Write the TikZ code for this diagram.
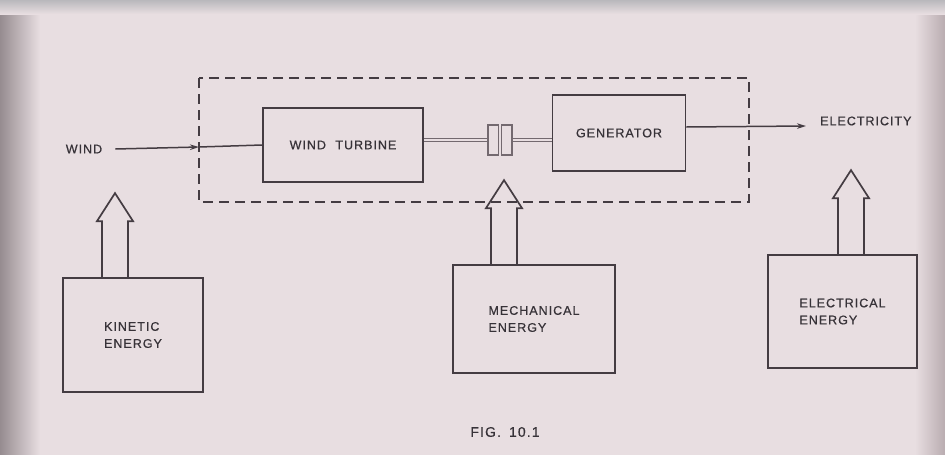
\documentclass[tikz,border=0pt]{standalone}
\usepackage{fontspec}
\setmainfont{Liberation Sans}[LetterSpace=8,FakeBold=0.6]
\usetikzlibrary{arrows.meta,calc}
\definecolor{paper}{RGB}{232,222,225}
\definecolor{paperdark}{RGB}{150,140,144}
\definecolor{paperright}{RGB}{185,172,176}
\definecolor{paperTop}{RGB}{185,184,188}
\definecolor{ink}{RGB}{68,60,66}
\definecolor{textink}{RGB}{55,50,56}
\definecolor{shaftc}{RGB}{115,105,111}
\tikzset{
  ink/.style={draw=ink, line width=1.7pt},
  blockbox/.style={ink, rectangle, inner sep=0pt, align=left, text=textink,
    font=\fontsize{12.5}{17}\selectfont},
  lbl/.style={text=textink, inner sep=1pt, font=\fontsize{12.5}{17}\selectfont},
  flow/.style={draw=ink, line width=1.5pt},
  flowarrow/.style={flow, -{Stealth[length=9pt,width=5.5pt]}},
  shaft/.style={draw=shaftc, line width=1.1pt, double=paper, double distance=2.6pt},
  hollow/.style={draw=ink, line width=1.7pt, line join=miter},
  boundary/.style={draw=ink, line width=1.5pt, dash pattern=on 10pt off 6pt}
}
\newcommand\hollowup[1]{%
  \draw[hollow] ($(#1)+(-13,0)$) -- ++(0,-56) -- ++(-5,0) -- ++(18,-28)
     -- ++(18,28) -- ++(-5,0) -- ++(0,56);}
\begin{document}
\begin{tikzpicture}[x=1pt,y=-1pt]
\useasboundingbox (0,0) rectangle (945,455);
% paper
\fill[paper] (0,0) rectangle (945,455);
\shade[left color=paperdark, right color=paper] (0,0) rectangle (40,455);
\shade[left color=paper, right color=paperright] (915,0) rectangle (945,455);
\shade[top color=paperTop, bottom color=paper] (0,0) rectangle (945,14);

% system boundary
\draw[boundary] (199,78) rectangle (749,202);

% main blocks
\node[blockbox, minimum width=160pt, minimum height=74pt] (wt) at (343,145) {WIND\hspace{5pt} TURBINE};
\node[blockbox, minimum width=133pt, minimum height=76pt] (gen) at (619,133) {GENERATOR};
\node[draw=shaftc, line width=1.1pt, minimum width=24pt, minimum height=30pt, inner sep=0pt] (cp) at (500,140) {};
\draw[shaftc, line width=1.1pt, double=paper, double distance=1.6pt] (cp.north) -- (cp.south);

% shafts
\draw[shaft] (wt.east |- cp) -- (cp.west);
\draw[shaft] (cp.east) -- (gen.west |- cp);

% wind input
\node[lbl] (wind) at (84,149) {WIND};
\coordinate (din) at (199,147);
\draw[flowarrow] (wind.east) ++(12,0) -- (din);
\draw[flow] (din) -- (wt.west);

% electricity output
\coordinate (gout) at (gen.east |- 0,127);
\coordinate (aend) at (806,126);
\draw[flowarrow] (gout) -- (aend);
\node[lbl, anchor=west] (elec) at (819,121) {ELECTRICITY};

% energy boxes
\node[blockbox, minimum width=140pt, minimum height=114pt] (kin) at (133,335) {KINETIC\\ENERGY};
\node[blockbox, minimum width=162pt, minimum height=108pt] (mech) at (534,319) {MECHANICAL\\ENERGY};
\node[blockbox, minimum width=149pt, minimum height=113pt] (elen) at (842.5,311.5) {ELECTRICAL\\ENERGY};

\coordinate (ka) at (kin.north -| 115,0);
\coordinate (ma) at (mech.north -| 504,0);
\coordinate (ea) at (elen.north -| 851,0);
\hollowup{ka}
\hollowup{ma}
\hollowup{ea}

% caption
\node[text=textink, font=\fontsize{14}{16}\selectfont] (cap) at (505,432) {FIG.\hspace{3pt} 10.1};
\end{tikzpicture}
\end{document}
